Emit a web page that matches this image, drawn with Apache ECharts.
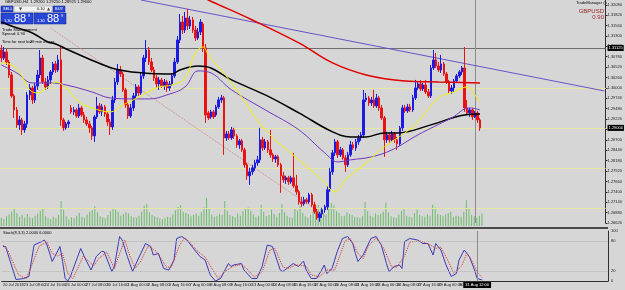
<!DOCTYPE html>
<html>
<head>
<meta charset="utf-8">
<title>GBPUSD,H4</title>
<script src="https://cdn.jsdelivr.net/npm/echarts@6/dist/echarts.min.js"></script>
<style>
html, body { margin: 0; padding: 0; background: #d6d6d6; }
#main { width: 625px; height: 290px; }
</style>
</head>
<body>
<div id="main"></div>
<script>
// H4 bars: [open, close, low, high]
var candles = [
  [1.3095,1.3075,1.3065,1.31075],[1.3075,1.309,1.307,1.31025],[1.309,1.3065,1.30575,1.30975],[1.3065,1.30325,1.3025,1.307],
  [1.30325,1.298,1.2975,1.304],[1.298,1.2945,1.2925,1.2985],[1.2945,1.29075,1.29,1.29525],[1.29075,1.292,1.2895,1.293],
  [1.292,1.2895,1.28825,1.2925],[1.2895,1.291,1.28875,1.29175],[1.291,1.29825,1.29,1.299],[1.29825,1.3,1.297,1.301],
  [1.3,1.297,1.296,1.3005],[1.297,1.3005,1.29625,1.30125],[1.3005,1.30325,1.2995,1.3045],[1.30325,1.3075,1.3025,1.3095],
  [1.3075,1.3015,1.301,1.30825],[1.3015,1.30025,1.2995,1.3025],[1.30025,1.302,1.29975,1.303],[1.302,1.304,1.301,1.3045],
  [1.304,1.306,1.30325,1.3065],[1.306,1.3045,1.30375,1.30675],[1.3045,1.307,1.304,1.30825],[1.307,1.292,1.2905,1.31025],
  [1.292,1.29,1.28925,1.2925],[1.29,1.291,1.2895,1.2915],[1.291,1.2915,1.29,1.292],[1.295,1.294,1.2935,1.29575],
  [1.294,1.2945,1.29325,1.29525],[1.2945,1.293,1.2925,1.295],[1.293,1.295,1.2925,1.296],[1.295,1.29325,1.29275,1.2955],
  [1.29325,1.292,1.29125,1.294],[1.292,1.291,1.2905,1.29275],[1.291,1.29,1.28875,1.29175],[1.29,1.288,1.287,1.2905],
  [1.288,1.29275,1.2865,1.29325],[1.29275,1.2955,1.29225,1.29775],[1.2955,1.294,1.2935,1.29625],[1.294,1.29525,1.293,1.296],
  [1.29525,1.2935,1.29275,1.29575],[1.2935,1.2915,1.2905,1.294],[1.2915,1.29025,1.28825,1.29225],[1.29025,1.297,1.2895,1.298],
  [1.297,1.3015,1.29625,1.3025],[1.3015,1.3045,1.30075,1.306],[1.3045,1.3035,1.30275,1.3055],[1.3035,1.2995,1.299,1.304],
  [1.2995,1.29575,1.295,1.3],[1.29575,1.293,1.29225,1.2965],[1.293,1.295,1.2925,1.296],[1.295,1.298,1.29425,1.29875],
  [1.298,1.30025,1.29725,1.301],[1.30025,1.29875,1.298,1.30075],[1.29875,1.303,1.29825,1.30375],[1.303,1.3075,1.30225,1.30825],
  [1.3075,1.3095,1.3065,1.312],[1.3095,1.3065,1.30575,1.31025],[1.3065,1.3045,1.304,1.3075],[1.3045,1.3025,1.30175,1.30525],
  [1.3025,1.301,1.3,1.30325],[1.301,1.302,1.2995,1.30275],[1.302,1.3005,1.3,1.3025],[1.3005,1.3015,1.2995,1.30225],
  [1.3015,1.3,1.299,1.302],[1.3,1.301,1.29925,1.30175],[1.301,1.303,1.3005,1.30375],[1.303,1.3065,1.3025,1.3075],
  [1.3065,1.312,1.306,1.313],[1.312,1.3165,1.31125,1.3185],[1.3165,1.3145,1.3135,1.318],[1.3145,1.3175,1.31375,1.319],
  [1.3175,1.3155,1.3145,1.31975],[1.3155,1.317,1.31475,1.318],[1.317,1.3145,1.31375,1.31775],[1.3145,1.3125,1.31175,1.3155],
  [1.3125,1.314,1.312,1.315],[1.314,1.3165,1.31325,1.31725],[1.316,1.31,1.309,1.3165],[1.31,1.29325,1.29125,1.311],
  [1.29375,1.2925,1.292,1.29425],[1.29275,1.294,1.29225,1.2945],[1.294,1.29275,1.29225,1.2945],[1.29325,1.29525,1.29275,1.29575],
  [1.29525,1.297,1.29475,1.29775],[1.297,1.2975,1.29625,1.29825],[1.2975,1.2875,1.28325,1.298],[1.2875,1.2885,1.28675,1.28925],
  [1.2885,1.2875,1.287,1.28925],[1.2875,1.2895,1.287,1.29025],[1.2895,1.288,1.28725,1.29],[1.288,1.28575,1.285,1.2885],
  [1.28575,1.28675,1.28475,1.28725],[1.28675,1.2845,1.284,1.28725],[1.2845,1.28075,1.28,1.285],[1.28075,1.278,1.277,1.28125],
  [1.278,1.279,1.27575,1.28],[1.279,1.28,1.27825,1.28075],[1.28,1.28125,1.27925,1.282],[1.28125,1.282,1.2805,1.283],
  [1.282,1.287,1.28125,1.29],[1.287,1.285,1.28425,1.28775],[1.285,1.2865,1.2845,1.28725],[1.2865,1.2845,1.28375,1.287],
  [1.2845,1.28325,1.2825,1.2895],[1.28325,1.28225,1.2815,1.28375],[1.28225,1.28275,1.28125,1.28325],[1.28275,1.28075,1.28025,1.28325],
  [1.28075,1.278,1.27375,1.28125],[1.278,1.277,1.27625,1.279],[1.277,1.2775,1.276,1.278],[1.2775,1.2765,1.27575,1.278],
  [1.2765,1.2775,1.276,1.278],[1.2775,1.2755,1.275,1.28375],[1.2755,1.274,1.27325,1.27825],[1.274,1.2715,1.27075,1.2745],
  [1.2715,1.271,1.27025,1.27275],[1.271,1.272,1.2705,1.27275],[1.272,1.2715,1.271,1.2725],[1.2715,1.27325,1.271,1.27375],
  [1.27325,1.27075,1.27025,1.27375],[1.27075,1.269,1.2685,1.2715],[1.269,1.2675,1.267,1.26975],[1.2675,1.2685,1.2665,1.269],
  [1.2685,1.2695,1.2675,1.27],[1.2695,1.27025,1.26875,1.27075],[1.27025,1.2745,1.2695,1.2755],[1.2745,1.279,1.274,1.28],
  [1.279,1.28375,1.27825,1.2845],[1.28375,1.2865,1.283,1.28725],[1.2865,1.28325,1.2825,1.287],[1.28325,1.2845,1.28275,1.28525],
  [1.2845,1.2825,1.282,1.285],[1.2825,1.28075,1.279,1.28325],[1.28075,1.28325,1.28025,1.284],[1.28325,1.28575,1.28275,1.28675],
  [1.28575,1.285,1.2845,1.2865],[1.285,1.2865,1.28425,1.28725],[1.2865,1.2875,1.28575,1.28825],[1.2875,1.28825,1.28675,1.289],
  [1.28825,1.297,1.2875,1.2995],[1.297,1.2975,1.2965,1.29875],[1.2975,1.29625,1.2955,1.298],[1.29625,1.297,1.2955,1.29775],
  [1.297,1.2955,1.295,1.2995],[1.2955,1.2975,1.295,1.2985],[1.2975,1.295,1.29425,1.298],[1.295,1.2925,1.292,1.29575],
  [1.2925,1.287,1.28275,1.293],[1.287,1.28825,1.28625,1.289],[1.28825,1.287,1.28625,1.28875],[1.287,1.2885,1.2865,1.28925],
  [1.2885,1.287,1.28625,1.289],[1.287,1.286,1.2845,1.28775],[1.286,1.29,1.2855,1.2905],[1.29,1.295,1.28925,1.29575],
  [1.295,1.29425,1.29375,1.29575],[1.29425,1.29525,1.29375,1.296],[1.29525,1.2945,1.294,1.296],[1.2945,1.2975,1.294,1.29825],
  [1.2975,1.3,1.297,1.302],[1.3,1.301,1.2995,1.3015],[1.301,1.29975,1.29925,1.302],[1.29975,1.30075,1.29925,1.30125],
  [1.30075,1.299,1.2985,1.302],[1.299,1.298,1.2975,1.29975],[1.298,1.305,1.2975,1.30575],[1.305,1.307,1.3045,1.3095],
  [1.307,1.3055,1.305,1.30875],[1.3055,1.3045,1.304,1.3065],[1.3045,1.306,1.30375,1.30825],[1.306,1.3035,1.303,1.3065],
  [1.3035,1.3015,1.301,1.304],[1.3015,1.29925,1.29875,1.302],[1.29925,1.3,1.2985,1.30075],[1.3,1.30175,1.299,1.30225],
  [1.30175,1.303,1.30125,1.3035],[1.303,1.304,1.3025,1.3045],[1.304,1.305,1.30325,1.3055],[1.305,1.295,1.294,1.31025],
  [1.295,1.29375,1.29325,1.297],[1.29375,1.2945,1.29275,1.295],[1.2945,1.29275,1.292,1.295],[1.29275,1.29375,1.2925,1.29425],
  [1.29375,1.292,1.29125,1.29425],[1.292,1.29,1.28925,1.2925]
];

var volumes = [
  1500,1300,1800,2100,2600,3200,2400,1700,2000,1500,
  2200,1600,1400,1900,2300,2800,3100,1800,1500,1300,
  1700,1400,2000,4600,3000,1800,1200,1600,1400,1900,
  2400,1700,1500,2100,2600,2900,3600,2500,1800,1600,
  1400,2000,2700,3300,3000,2600,1900,2200,2500,2300,
  1800,1600,1500,1900,2600,3700,4100,2500,2000,1800,
  1600,1400,1300,1500,1700,1600,2100,2900,3500,3800,
  2600,2400,2200,1800,2000,2300,1900,2500,3400,5200,
  3300,2100,1700,1900,2200,2000,4600,2800,2000,1800,
  1600,2300,1900,2700,3100,3400,2800,2100,1700,1900,
  3900,2600,1800,2000,3000,2200,1700,2400,4000,2500,
  1900,1600,1500,3300,2800,3600,2400,1800,1500,2000,
  2600,3000,3900,3200,2400,2100,3500,4200,3800,2700,
  2400,1800,1900,2500,2200,2000,1700,1600,1500,1800,
  4400,2700,1900,1700,2300,2000,2200,2600,4300,2500,
  1800,1600,1500,2100,2800,3300,1900,1700,1600,2400,
  3000,2000,1800,1700,2100,1900,3900,3400,2200,2000,
  1800,2100,2400,2600,1700,1900,1800,1700,2600,4700,
  3100,2000,1800,1500,1900,2300
];

// moving averages, [bar, price]
var maRed = [[72,1.3245],[80,1.3220],[97,1.3170],[115,1.31125],[128,1.30625],[141,1.30325],[156,1.30175],[169,1.3015],[185,1.30125]];
var maBlack = [[0,1.3165],[5,1.31525],[12,1.31375],[18,1.3115],[21,1.311],[26,1.3095],[33,1.3075],[44,1.30475],[55,1.30375],[66,1.3035],
  [69,1.3045],[76,1.3055],[81,1.305],[89,1.302],[102,1.29825],[115,1.29375],[128,1.289],[135,1.28775],[141,1.28775],[148,1.28875],
  [153,1.28875],[166,1.29075],[179,1.29325],[185,1.2935]];
var maPurple = [[0,1.30575],[6,1.30375],[12,1.30125],[19,1.30125],[25,1.30075],[35,1.299],[42,1.2975],[51,1.29725],[57,1.29725],[64,1.29825],
  [71,1.30025],[76,1.30425],[80,1.304],[89,1.2995],[102,1.2945],[115,1.2895],[125,1.28375],[130,1.2815],[135,1.282],[143,1.28275],
  [151,1.2845],[161,1.28825],[174,1.2925],[181,1.295],[185,1.2945]];
var maYellow = [[0,1.30625],[4,1.30575],[7,1.304],[11,1.2995],[14,1.29875],[18,1.30025],[21,1.3015],[25,1.3],[30,1.2965],[35,1.295],
  [42,1.294],[47,1.29575],[51,1.297],[56,1.29875],[61,1.30025],[66,1.30075],[71,1.3025],[75,1.30875],[78,1.31025],[80,1.30825],
  [89,1.30125],[102,1.2895],[115,1.282],[124,1.277],[129,1.274],[133,1.277],[141,1.28125],[148,1.28525],[156,1.28875],[161,1.2915],
  [169,1.2975],[175,1.299],[180,1.30025],[183,1.29825],[185,1.2965]];

// stochastic %K and signal
var stochMain = [[0,69],[1,69],[5,3],[8,5],[10,9],[12,72],[15,79],[16,82],[17,72],[19,39],[20,49],[22,69],[23,39],[24,5],[25,0],[26,9],
  [30,65],[32,42],[34,22],[36,49],[38,59],[39,59],[42,19],[43,29],[45,89],[46,82],[48,49],[50,19],[52,42],[55,75],[57,69],[58,52],
  [60,55],[62,25],[64,22],[66,42],[67,85],[69,89],[71,82],[74,62],[76,49],[78,42],[80,12],[82,0],[84,5],[87,35],[88,29],[89,32],
  [92,35],[93,22],[96,5],[98,5],[100,29],[102,72],[104,69],[107,22],[108,19],[112,35],[114,29],[116,40],[117,22],[119,5],[121,5],
  [123,22],[124,32],[125,15],[127,25],[129,59],[131,85],[133,89],[135,75],[136,55],[137,39],[139,52],[142,85],[144,89],[146,72],
  [148,35],[149,19],[151,29],[153,32],[154,25],[155,79],[157,85],[160,82],[162,75],[164,75],[166,52],[167,75],[169,62],[171,32],
  [173,9],[175,15],[176,42],[178,62],[180,49],[182,22],[183,5],[185,2]];
var stochSignal = [[0,72],[2,60],[6,12],[9,5],[11,30],[14,70],[17,78],[19,55],[21,50],[23,55],[25,15],[27,5],[31,50],[33,40],[35,30],
  [37,45],[40,58],[43,25],[45,55],[47,82],[49,50],[51,25],[53,38],[56,70],[59,60],[61,45],[63,28],[65,28],[68,70],[70,86],[72,78],
  [75,60],[78,48],[81,22],[83,5],[86,20],[89,30],[92,33],[94,25],[97,8],[100,18],[103,62],[105,65],[108,28],[110,25],[113,32],
  [117,30],[119,12],[122,8],[125,22],[128,22],[130,50],[132,80],[134,85],[137,55],[139,45],[141,70],[144,86],[147,65],[150,28],
  [152,28],[155,50],[157,78],[161,80],[165,72],[167,65],[169,68],[172,38],[174,15],[177,30],[179,55],[181,40],[183,18],[185,6]];

var levels = [1.30475, 1.29725, 1.2900, 1.2810, 1.2670];
var timeLabels = ['20 Jul 2018','23 Jul 08:00','24 Jul 16:00','26 Jul 00:00','27 Jul 08:00','30 Jul 16:00','1 Aug 00:00',
  '2 Aug 08:00','3 Aug 16:00','7 Aug 00:00','8 Aug 08:00','9 Aug 16:00','13 Aug 00:00','14 Aug 08:00','15 Aug 16:00',
  '17 Aug 00:00','20 Aug 08:00','21 Aug 16:00','23 Aug 00:00','24 Aug 08:00','27 Aug 16:00','29 Aug 00:00','30 Aug 08:00'];
var slots = 234;

var cats = [];
for (var i = 0; i < slots; i++) cats.push(String(i));

var font = 'Liberation Sans';
var axisText = { fontSize: 4, color: '#202020', fontFamily: font };

var levelLines = levels.map(function (v) {
    var item = { yAxis: v, lineStyle: { color: '#e6e6a4', width: 1, type: 'solid' }, label: { show: false } };
    if (v === 1.29) {
        item.label = { show: true, position: 'end', distance: 2, formatter: '1.29000', backgroundColor: '#000', color: '#fff',
            fontSize: 4, fontFamily: font, padding: [1, 1] };
    }
    return item;
});

var myChart = echarts.init(document.getElementById('main'));
var option = {
    backgroundColor: '#d6d6d6',
    animation: false,
    grid: [
        { left: 0, right: 17, top: 0, height: 223 },
        { left: 0, right: 17, top: 190, height: 36 },
        { left: 0, right: 17, top: 231, height: 50 }
    ],
    xAxis: [
        { type: 'category', gridIndex: 0, data: cats, axisLine: { show: false }, axisTick: { show: false }, axisLabel: { show: false } },
        { type: 'category', gridIndex: 1, data: cats, show: false },
        { type: 'category', gridIndex: 2, data: cats,
            axisLine: { lineStyle: { color: '#303030' } },
            axisTick: { interval: 7, length: 2, lineStyle: { color: '#303030' } },
            axisLabel: Object.assign({ interval: 7, align: 'left', margin: 2, formatter: function (v, idx) {
                return timeLabels[idx / 8] || '';
            } }, axisText) }
    ],
    yAxis: [
        { type: 'value', gridIndex: 0, position: 'right', min: 1.2662, max: 1.3220, interval: 0.0026, scale: true,
            axisLine: { show: true, lineStyle: { color: '#303030' } },
            axisTick: { show: true, length: 2, lineStyle: { color: '#303030' } },
            splitLine: { show: false },
            axisLabel: Object.assign({ margin: 2, showMaxLabel: false, formatter: function (v) { return v.toFixed(5); } }, axisText) },
        { type: 'value', gridIndex: 1, min: 0, max: 6600, show: false },
        { type: 'value', gridIndex: 2, position: 'right', min: 0, max: 100, interval: 20,
            axisLine: { show: true, lineStyle: { color: '#303030' } },
            axisTick: { show: false },
            splitLine: { show: false },
            axisLabel: Object.assign({ margin: 3, formatter: function (v) {
                return (v === 100 || v === 80 || v === 20 || v === 0) ? String(v) : '';
            } }, axisText) }
    ],
    series: [
        {
            type: 'bar', xAxisIndex: 1, yAxisIndex: 1, data: volumes, barWidth: 1,
            itemStyle: { color: '#6cbc6c' }, z: 1
        },
        {
            type: 'candlestick', xAxisIndex: 0, yAxisIndex: 0, data: candles, barWidth: 2, z: 3,
            itemStyle: { color: '#1c1ce0', color0: '#e81414', borderColor: '#1c1ce0', borderColor0: '#e81414', borderWidth: 1 },
            markLine: {
                symbol: 'none', silent: true, z: 2,
                data: levelLines.concat([
                    { yAxis: 1.31125, lineStyle: { color: '#6e6e6e', width: 1, type: 'solid' },
                        label: { show: true, position: 'end', distance: 2, formatter: '1.31125', backgroundColor: '#000', color: '#fff',
                            fontSize: 4, fontFamily: font, padding: [1, 1] } },
                    { xAxis: 183, lineStyle: { color: '#8c8c8c', width: 1, type: 'solid' }, label: { show: false } },
                    [{ coord: [54, 1.3220], lineStyle: { color: '#6a52c8', width: 1, type: 'solid' }, label: { show: false } },
                     { coord: [233, 1.29925] }],
                    [{ coord: [19, 1.3150], lineStyle: { color: '#d08a8a', width: 1, type: 'dotted' }, label: { show: false } },
                     { coord: [126, 1.2675] }]
                ])
            }
        },
        { type: 'line', xAxisIndex: 0, yAxisIndex: 0, data: maRed, smooth: 0.4, showSymbol: false, z: 4,
            lineStyle: { color: '#e00000', width: 1.5 } },
        { type: 'line', xAxisIndex: 0, yAxisIndex: 0, data: maBlack, smooth: 0.4, showSymbol: false, z: 4,
            lineStyle: { color: '#000000', width: 1.5 } },
        { type: 'line', xAxisIndex: 0, yAxisIndex: 0, data: maPurple, smooth: 0.4, showSymbol: false, z: 4,
            lineStyle: { color: '#7038c0', width: 1 } },
        { type: 'line', xAxisIndex: 0, yAxisIndex: 0, data: maYellow, smooth: 0.4, showSymbol: false, z: 4,
            lineStyle: { color: '#f2f200', width: 1 } },
        {
            type: 'line', xAxisIndex: 2, yAxisIndex: 2, data: stochMain, showSymbol: false,
            lineStyle: { color: '#3a3ab8', width: 1 },
            markLine: {
                symbol: 'none', silent: true,
                data: [
                    { yAxis: 80, lineStyle: { color: '#b4b4b4', type: 'dotted', width: 1 }, label: { show: false } },
                    { yAxis: 20, lineStyle: { color: '#b4b4b4', type: 'dotted', width: 1 }, label: { show: false } },
                    { xAxis: 183, lineStyle: { color: '#8c8c8c', width: 1, type: 'solid' },
                        label: { show: true, position: 'start', distance: 1, formatter: '31 Aug 12:00', backgroundColor: '#000',
                            color: '#fff', fontSize: 4, fontFamily: font, padding: [1, 2] } }
                ]
            }
        },
        { type: 'line', xAxisIndex: 2, yAxisIndex: 2, data: stochSignal, showSymbol: false,
            lineStyle: { color: '#d83030', width: 1, type: 'dotted' } }
    ],
    graphic: [
        { type: 'rect', shape: { x: 0, y: 227, width: 608, height: 2 }, style: { fill: '#4a4a4a' } },
        { type: 'text', x: 5, y: 0, style: { text: 'GBPUSD,H4  1.29200 1.29250 1.28925 1.29000', fontSize: 4, fontFamily: font, fill: '#000' } },
        // trade panel
        { type: 'rect', shape: { x: 1, y: 6, width: 12, height: 6 }, style: { fill: '#2846d6', stroke: '#10208a', lineWidth: 0.5 } },
        { type: 'text', x: 3, y: 7, style: { text: 'SELL', fontSize: 4, fontFamily: font, fill: '#fff' } },
        { type: 'rect', shape: { x: 14, y: 6, width: 38, height: 6 }, style: { fill: '#f2f2f2', stroke: '#909090', lineWidth: 0.5 } },
        { type: 'text', x: 19, y: 7, style: { text: '\u25BC', fontSize: 4, fontFamily: 'DejaVu Sans', fill: '#404040' } },
        { type: 'text', x: 37, y: 7, style: { text: '0.10', fontSize: 4, fontFamily: font, fill: '#000' } },
        { type: 'text', x: 47, y: 7, style: { text: '\u25B2', fontSize: 4, fontFamily: 'DejaVu Sans', fill: '#404040' } },
        { type: 'rect', shape: { x: 53, y: 6, width: 12, height: 6 }, style: { fill: '#2846d6', stroke: '#10208a', lineWidth: 0.5 } },
        { type: 'text', x: 55, y: 7, style: { text: 'BUY', fontSize: 4, fontFamily: font, fill: '#fff' } },
        { type: 'rect', shape: { x: 1, y: 13, width: 32, height: 11 }, style: { fill: '#2846d6', stroke: '#10208a', lineWidth: 0.5 } },
        { type: 'text', x: 4, y: 19, style: { text: '1.30', fontSize: 4, fontFamily: font, fill: '#fff' } },
        { type: 'text', x: 14, y: 13, style: { text: '88', fontSize: 11, fontFamily: font, fill: '#fff' } },
        { type: 'text', x: 28, y: 14, style: { text: '9', fontSize: 4, fontFamily: font, fill: '#fff' } },
        { type: 'rect', shape: { x: 34, y: 13, width: 32, height: 11 }, style: { fill: '#2846d6', stroke: '#10208a', lineWidth: 0.5 } },
        { type: 'text', x: 37, y: 19, style: { text: '1.30', fontSize: 4, fontFamily: font, fill: '#fff' } },
        { type: 'text', x: 47, y: 13, style: { text: '88', fontSize: 11, fontFamily: font, fill: '#fff' } },
        { type: 'text', x: 61, y: 14, style: { text: '9', fontSize: 4, fontFamily: font, fill: '#fff' } },
        { type: 'text', x: 2, y: 28, style: { text: 'Trade Management', fontSize: 4, fontFamily: font, fill: '#000' } },
        { type: 'text', x: 2, y: 32, style: { text: 'Spread: 0.90', fontSize: 4, fontFamily: font, fill: '#000' } },
        { type: 'text', x: 2, y: 40, style: { text: 'Time for next bar:', fontSize: 4, fontFamily: font, fill: '#000' } },
        { type: 'text', x: 30, y: 40, style: { text: '29 min 45 sec', fontSize: 4, fontFamily: font, fill: '#000' } },
        // top right
        { type: 'text', x: 602, y: 1, style: { text: 'TradeManager', fontSize: 4, fontFamily: font, fill: '#000', textAlign: 'right' } },
        { type: 'circle', shape: { cx: 605, cy: 3, r: 1.5 }, style: { fill: 'none', stroke: '#404040', lineWidth: 0.5 } },
        { type: 'text', x: 604, y: 8, style: { text: 'GBPUSD', fontSize: 6, fontFamily: font, fill: '#a02828', textAlign: 'right' } },
        { type: 'text', x: 604, y: 14, style: { text: '0.90', fontSize: 6, fontFamily: font, fill: '#a02828', textAlign: 'right' } },
        { type: 'text', x: 3, y: 231, style: { text: 'Stoch(8,3,3) 2.0000 6.0000', fontSize: 4, fontFamily: font, fill: '#000' } }
    ]
};

myChart.setOption(option);
</script>
</body>
</html>
